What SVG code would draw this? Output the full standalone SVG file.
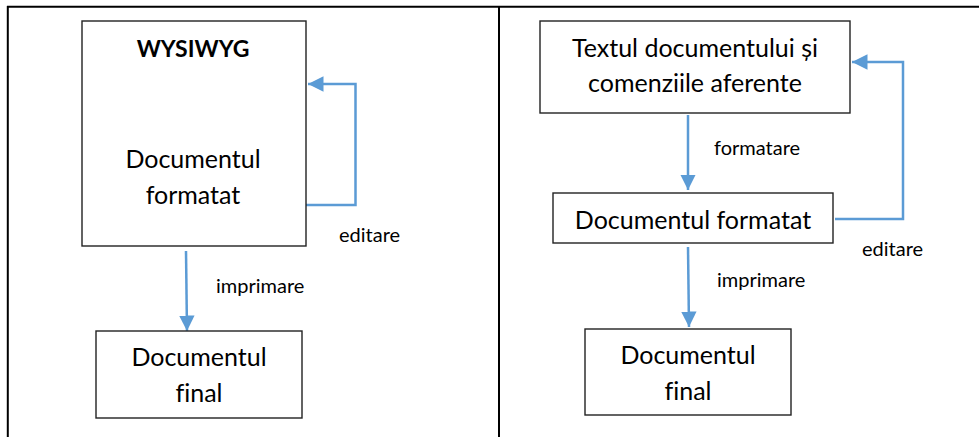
<svg xmlns="http://www.w3.org/2000/svg" width="979" height="437" viewBox="0 0 979 437">
  <style>
    .frame { stroke: #000; stroke-width: 2; fill: none; }
    .box { fill: #fff; stroke: #222; stroke-width: 1.4; }
    .t { font-family: Lato, "Liberation Sans", sans-serif; font-size: 25px; fill: #000; text-anchor: middle; font-variant-ligatures: none; }
    .b { font-weight: bold; font-size: 23px; }
    .lbl { font-family: Lato, "Liberation Sans", sans-serif; font-size: 20px; fill: #000; font-variant-ligatures: none; }
    .conn { fill: none; stroke: #5B9BD5; stroke-width: 2.5; }
  </style>
  <defs>
    <marker id="arrow" viewBox="0 0 10 10" refX="10" refY="5" markerWidth="6.2" markerHeight="6.4" markerUnits="strokeWidth" orient="auto">
      <path d="M0,0 L10,5 L0,10 z" fill="#5B9BD5"/>
    </marker>
  </defs>
  <rect width="979" height="437" fill="#fff"/>

  <!-- table frame -->
  <g id="frame">
    <line class="frame" x1="7" y1="6.8" x2="979" y2="6.8"/>
    <line class="frame" x1="7.8" y1="6" x2="7.8" y2="437"/>
    <line class="frame" x1="499" y1="6" x2="499" y2="437"/>
  </g>

  <!-- connectors -->
  <g id="connectors">
    <polyline class="conn" points="306,205 355.5,205 355.5,84 308,84" marker-end="url(#arrow)"/>
    <line class="conn" x1="186" y1="251" x2="187" y2="331" marker-end="url(#arrow)"/>
    <line class="conn" x1="688" y1="115" x2="688" y2="190" marker-end="url(#arrow)"/>
    <polyline class="conn" points="835,219 903,219 903,62 852,62" marker-end="url(#arrow)"/>
    <line class="conn" x1="688" y1="247" x2="689" y2="327" marker-end="url(#arrow)"/>
  </g>

  <!-- connector labels -->
  <g id="labels">
    <text class="lbl" x="339" y="242">editare</text>
    <text class="lbl" x="216" y="293">imprimare</text>
    <text class="lbl" x="714" y="155">formatare</text>
    <text class="lbl" x="862" y="256">editare</text>
    <text class="lbl" x="717" y="287">imprimare</text>
  </g>

  <!-- left: WYSIWYG -->
  <g id="wysiwyg">
    <rect class="box" x="82" y="21" width="224" height="225"/>
    <text class="t b" x="193" y="57">WYSIWYG</text>
    <text class="t" x="193" y="168">Documentul</text>
    <text class="t" x="193" y="204">formatat</text>
  </g>
  <g id="final-left">
    <rect class="box" x="96" y="331" width="206" height="87"/>
    <text class="t" x="199" y="366">Documentul</text>
    <text class="t" x="199" y="402">final</text>
  </g>

  <!-- right: markup-based -->
  <g id="source">
    <rect class="box" x="540" y="21" width="310" height="92"/>
    <text class="t" x="695" y="57">Textul documentului și</text>
    <text class="t" x="695" y="92">comenziile aferente</text>
  </g>
  <g id="formatted">
    <rect class="box" x="553" y="193" width="280" height="50"/>
    <text class="t" x="693" y="229">Documentul formatat</text>
  </g>
  <g id="final-right">
    <rect class="box" x="585" y="329" width="206" height="86"/>
    <text class="t" x="688" y="364">Documentul</text>
    <text class="t" x="688" y="400">final</text>
  </g>
</svg>
